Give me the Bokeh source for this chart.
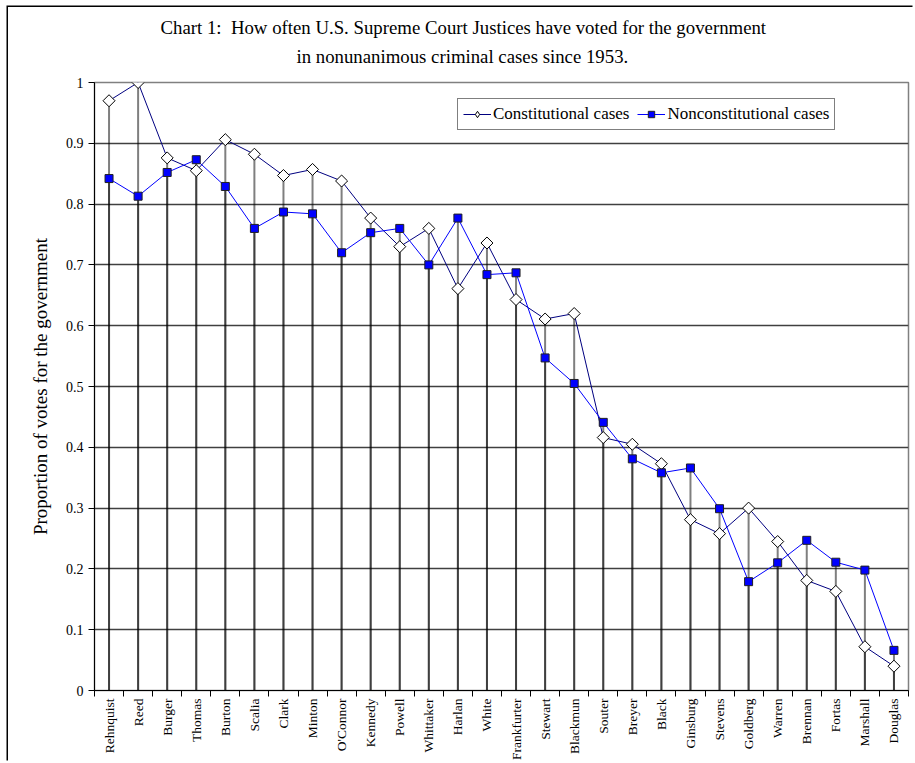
from bokeh.plotting import figure
from bokeh.models import Range1d, FixedTicker, Legend, LegendItem, ColumnDataSource, Title
from bokeh.embed import file_html
from bokeh.resources import INLINE
import math

justices = ["Rehnquist", "Reed", "Burger", "Thomas", "Burton", "Scalia", "Clark", "Minton",
            "O'Connor", "Kennedy", "Powell", "Whittaker", "Harlan", "White", "Frankfurter",
            "Stewart", "Blackmun", "Souter", "Breyer", "Black", "Ginsburg", "Stevens",
            "Goldberg", "Warren", "Brennan", "Fortas", "Marshall", "Douglas"]
constitutional = [0.970, 1.000, 0.876, 0.855, 0.906, 0.882, 0.847, 0.857, 0.838, 0.777,
                  0.730, 0.760, 0.661, 0.736, 0.643, 0.611, 0.620, 0.416, 0.405, 0.373,
                  0.281, 0.258, 0.300, 0.245, 0.181, 0.163, 0.072, 0.040]
nonconstitutional = [0.842, 0.813, 0.852, 0.873, 0.829, 0.760, 0.787, 0.784, 0.720, 0.753,
                     0.760, 0.700, 0.777, 0.684, 0.687, 0.547, 0.505, 0.441, 0.381, 0.358,
                     0.366, 0.299, 0.179, 0.210, 0.247, 0.211, 0.198, 0.066]
y_ticks = [0.0, 0.1, 0.2, 0.3, 0.4, 0.5, 0.6, 0.7, 0.8, 0.9, 1.0]
y_tick_labels = ["0", "0.1", "0.2", "0.3", "0.4", "0.5", "0.6", "0.7", "0.8", "0.9", "1"]
title_lines = ["Chart 1:\u00a0 How often U.S. Supreme Court Justices have voted for the government",
               "in nonunanimous criminal cases since 1953."]
y_label = "Proportion of votes for the government"
series_names = ["Constitutional cases", "Nonconstitutional cases"]

n = len(justices)
xs = [i + 0.5 for i in range(n)]
bounds = [float(i) for i in range(n + 1)]
src = ColumnDataSource(dict(x=xs, c=constitutional, nc=nonconstitutional,
                            zero=[0.0] * n))

FONT = "Liberation Serif"

p = figure(width=906, height=755, output_backend="svg", toolbar_location=None,
           x_range=Range1d(0, n), y_range=Range1d(0, 1),
           min_border_left=86, min_border_right=6, min_border_top=75, min_border_bottom=71)
p.styles = {"margin-left": "8px", "margin-top": "7px",
            "box-shadow": "-1.5px -1.5px 0px 0px #000000"}
p.background_fill_color = "white"
p.border_fill_color = "white"
p.outline_line_color = "#808080"
p.outline_line_width = 1.5

# gridlines
p.xgrid.visible = False
p.ygrid.ticker = FixedTicker(ticks=y_ticks)
p.ygrid.grid_line_color = "#404040"
p.ygrid.grid_line_width = 1.3

# axes
p.yaxis.ticker = FixedTicker(ticks=y_ticks)
p.yaxis.major_label_overrides = {t: l for t, l in zip(y_ticks, y_tick_labels)}
p.yaxis.major_tick_out = 6
p.yaxis.major_tick_in = 0
p.yaxis.minor_tick_out = 0
p.yaxis.minor_tick_in = 0
p.yaxis.axis_line_color = "black"
p.yaxis.major_tick_line_color = "black"
p.yaxis.major_label_text_font = FONT
p.yaxis.major_label_text_font_size = "14px"
p.yaxis.major_label_text_color = "black"
p.yaxis.major_label_standoff = 5
p.yaxis.axis_label = y_label
p.yaxis.axis_label_text_font = FONT
p.yaxis.axis_label_text_font_size = "19px"
p.yaxis.axis_label_text_font_style = "normal"
p.yaxis.axis_label_text_color = "black"
p.yaxis.axis_label_standoff = 12

p.xaxis.ticker = FixedTicker(ticks=xs, minor_ticks=bounds)
p.xaxis.major_label_overrides = {x: j for x, j in zip(xs, justices)}
p.xaxis.major_label_orientation = math.pi / 2
p.xaxis.major_tick_out = 0
p.xaxis.major_tick_in = 0
p.xaxis.minor_tick_out = 6
p.xaxis.minor_tick_in = 0
p.xaxis.minor_tick_line_color = "black"
p.xaxis.axis_line_color = "black"
p.xaxis.major_label_text_font = FONT
p.xaxis.major_label_text_font_size = "13.5px"
p.xaxis.major_label_text_color = "black"
p.xaxis.major_label_standoff = 2

# drop lines
p.segment(x0="x", y0="zero", x1="x", y1="c", source=src, line_color="black",
          line_alpha=0.5, line_width=2)
p.segment(x0="x", y0="zero", x1="x", y1="nc", source=src, line_color="black",
          line_alpha=0.5, line_width=2)

# series
l1 = p.line("x", "c", source=src, line_color="#000080", line_width=1)
l2 = p.line("x", "nc", source=src, line_color="#0000FF", line_width=1)
m1 = p.scatter("x", "c", source=src, marker="square", angle=math.pi / 4, size=8.5,
               fill_color="white", line_color="black", line_width=1)
m2 = p.scatter("x", "nc", source=src, marker="square", size=8,
               fill_color="#0000FF", line_color="#202020", line_width=1)
# legend-only diamond (legend glyphs ignore the marker angle)
proxy_src = ColumnDataSource(dict(x=[float("nan")], y=[float("nan")]))
m1_key = p.scatter("x", "y", source=proxy_src, marker="diamond", size=11,
                   fill_color="white", line_color="black", line_width=1)

legend = Legend(items=[LegendItem(label=series_names[0], renderers=[l1, m1_key]),
                       LegendItem(label=series_names[1], renderers=[l2, m2])],
                orientation="horizontal", location=(363, 560))
legend.label_text_font = FONT
legend.label_text_font_size = "17px"
legend.label_text_color = "black"
legend.border_line_color = "black"
legend.border_line_width = 1
legend.background_fill_color = "white"
legend.background_fill_alpha = 1
legend.glyph_width = 28
legend.glyph_height = 16
legend.label_standoff = 2
legend.spacing = 8
legend.padding = 5
legend.margin = 0
legend.label_height = 16
p.add_layout(legend, "center")

# two-line title
p.title.text = title_lines[0]
p.title.align = "left"
p.title.offset = 66
p.title.text_font = FONT
p.title.text_font_size = "18.8px"
p.title.text_font_style = "normal"
p.title.text_color = "black"
p.title.standoff = -20
sub = Title(text=title_lines[1], align="left", offset=202, text_font=FONT,
            text_font_size="18.8px", text_font_style="normal", text_color="black",
            standoff=32)
p.add_layout(sub, "above")

open("out.html", "w").write(file_html(p, INLINE))
